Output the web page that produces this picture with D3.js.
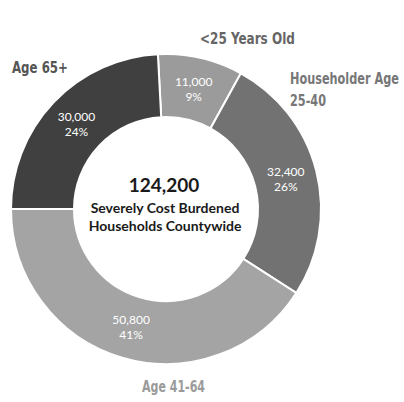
<!DOCTYPE html>
<html>
<head>
<meta charset="utf-8">
<script src="https://cdn.jsdelivr.net/npm/d3@7"></script>
<style>
  html, body { margin: 0; padding: 0; background: #ffffff; }
  svg { display: block; }
</style>
</head>
<body>
<svg id="chart" width="404" height="402"></svg>
<script>
// ---- data ----
const categories = ["<25 Years Old", "Householder Age 25-40", "Age 41-64", "Age 65+"];
const values = [11000, 32400, 50800, 30000];
const percentLabels = ["9%", "26%", "41%", "24%"];
const colors = ["#9b9b9b", "#727272", "#a4a4a4", "#404040"];
const totalLabel = "124,200";
const centerLines = ["Severely Cost Burdened", "Households Countywide"];

// category label text lines (outside the ring)
const outerLabelLines = [["<25 Years Old"], ["Householder Age", "25-40"], ["Age 41-64"], ["Age 65+"]];

const svg = d3.select("#chart");
const cx = 166, cy = 209;
const outerR = 155, innerR = 92;

const pie = d3.pie().sort(null).value(d => d)
  .startAngle(-3 * Math.PI / 180)
  .endAngle((360 - 3) * Math.PI / 180);
const arcs = pie(values);

const arc = d3.arc().innerRadius(innerR).outerRadius(outerR);

const g = svg.append("g").attr("transform", `translate(${cx},${cy})`);

g.selectAll("path.slice")
  .data(arcs)
  .join("path")
  .attr("class", "slice")
  .attr("d", arc)
  .attr("fill", (d, i) => colors[i])
  .attr("stroke", "#ffffff")
  .attr("stroke-width", 2);

// value labels inside slices
const fmt = d3.format(",");
const lab = g.selectAll("g.vlab")
  .data(arcs)
  .join("g")
  .attr("class", "vlab")
  .attr("transform", d => { const c = arc.centroid(d); return `translate(${c[0]},${c[1]})`; });

lab.append("text")
  .attr("text-anchor", "middle")
  .attr("y", -3)
  .attr("font-family", "Lato, 'Open Sans', sans-serif")
  .attr("font-size", 12)
  .attr("fill", "#ffffff")
  .text(d => fmt(d.data));
lab.append("text")
  .attr("text-anchor", "middle")
  .attr("y", 12)
  .attr("font-family", "Lato, 'Open Sans', sans-serif")
  .attr("font-size", 12)
  .attr("fill", "#ffffff")
  .text((d, i) => percentLabels[i]);

// center text
g.append("text")
  .attr("x", -2).attr("y", -17)
  .attr("text-anchor", "middle")
  .attr("font-family", "Lato, 'Open Sans', sans-serif")
  .attr("font-weight", "bold")
  .attr("font-size", 19)
  .attr("fill", "#1a1a1a")
  .text(totalLabel);
centerLines.forEach((t, i) => {
  g.append("text")
    .attr("x", -1).attr("y", 4 + i * 18)
    .attr("text-anchor", "middle")
    .attr("font-family", "Lato, 'Open Sans', sans-serif")
    .attr("font-weight", "bold")
    .attr("font-size", 14)
    .attr("fill", "#1a1a1a")
    .text(t);
});

// outer category labels (condensed horizontally to match the narrow face)
const outerPos = [
  { x: 200, y: 44, color: "#666666", size: 15, widths: [95] },
  { x: 290, y: 84, color: "#777777", size: 15, widths: [109, 36] },
  { x: 142, y: 392, color: "#9a9a9a", size: 15, widths: [63] },
  { x: 12, y: 73, color: "#555555", size: 16, widths: [56] }
];
outerLabelLines.forEach((lines, i) => {
  const p = outerPos[i];
  lines.forEach((t, j) => {
    const gy = p.y + j * 22;
    const tg = svg.append("g");
    const txt = tg.append("text")
      .attr("x", 0).attr("y", 0)
      .attr("text-anchor", "start")
      .attr("font-family", "'Liberation Sans Narrow', 'DejaVu Sans Condensed', sans-serif")
      .attr("font-weight", "bold")
      .attr("font-size", p.size)
      .attr("fill", p.color)
      .text(t);
    const natural = txt.node().getComputedTextLength() || p.widths[j];
    const sx = Math.min(1, p.widths[j] / natural);
    tg.attr("transform", `translate(${p.x},${gy}) scale(${sx},1)`);
  });
});
</script>
</body>
</html>
